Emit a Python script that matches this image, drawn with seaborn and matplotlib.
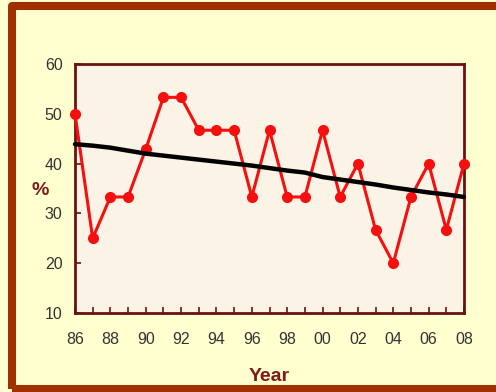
import matplotlib
matplotlib.use("Agg")
import matplotlib.pyplot as plt
import seaborn as sns
import pandas as pd
from matplotlib.patches import Rectangle
from matplotlib.ticker import FixedLocator, MultipleLocator

# Yearly percentages, 1986-2008
years = list(range(1986, 2009))
pct = [50.0, 25.0, 33.3, 33.3, 42.9, 53.3, 53.3, 46.7, 46.7, 46.7, 33.3, 46.7,
       33.3, 33.3, 46.7, 33.3, 40.0, 26.7, 20.0, 33.3, 40.0, 26.7, 40.0]
# Smoothed trend over the same years
trend = [43.9, 43.6, 43.2, 42.6, 42.0, 41.6, 41.2, 40.8, 40.4, 40.0, 39.6, 39.1,
         38.6, 38.2, 37.3, 36.8, 36.3, 35.8, 35.2, 34.7, 34.2, 33.8, 33.3]
x_tick_years = list(range(1986, 2009, 2))
x_tick_labels = ["86", "88", "90", "92", "94", "96", "98", "00", "02", "04", "06", "08"]
y_ticks = [10, 20, 30, 40, 50, 60]

df = pd.DataFrame({"year": years, "pct": pct, "trend": trend})

sns.set_style("white")
plt.rcParams["font.family"] = ["Liberation Sans", "DejaVu Sans"]

W, H = 496, 392
fig = plt.figure(figsize=(W / 100, H / 100), dpi=100, facecolor="#FFFFD0")
ax = fig.add_axes([75 / W, 1 - 313 / H, (464 - 75) / W, (313 - 64) / H])
ax.set_facecolor("#FBF3E5")

sns.lineplot(data=df, x="year", y="pct", ax=ax, color="#F50F0F", lw=2.2,
             marker="o", markersize=8, markeredgewidth=0, zorder=3, clip_on=False)
sns.lineplot(data=df, x="year", y="trend", ax=ax, color="black", lw=3.2, zorder=4,
             clip_on=False)

ax.set_xlim(years[0], years[-1])
ax.set_ylim(y_ticks[0], y_ticks[-1])
ax.xaxis.set_major_locator(FixedLocator(x_tick_years))
ax.set_xticklabels(x_tick_labels)
ax.xaxis.set_minor_locator(MultipleLocator(1))
ax.set_yticks(y_ticks)

spine_col = "#6A1212"
for s in ax.spines.values():
    s.set_visible(True)
    s.set_color(spine_col)
    s.set_linewidth(2.0)

ax.tick_params(axis="x", which="both", direction="in", length=4, width=1.2,
               color=spine_col, pad=14, labelsize=11.5, labelcolor="#333333",
               bottom=True)
ax.tick_params(axis="y", which="major", direction="in", length=4, width=1.2,
               color=spine_col, pad=9, labelsize=11.5, labelcolor="#333333", left=True)

ax.set_xlabel("Year", fontsize=14, fontweight="bold", color="#7E1A1A", labelpad=15)
ax.set_ylabel("%", fontsize=14, fontweight="bold", color="#7E1A1A", rotation=0,
              va="center")
ax.yaxis.set_label_coords(-35 / (464 - 75), 0.49)

# Brown frame around the panel
fig.patches.append(Rectangle((12 / W, 1 - 389 / H), (520 - 12) / W, (389 - 6) / H,
                             transform=fig.transFigure, fill=False, edgecolor="#A03000",
                             lw=5.8, joinstyle="round", zorder=0))

fig.savefig("out.png", dpi=100, facecolor=fig.get_facecolor())
